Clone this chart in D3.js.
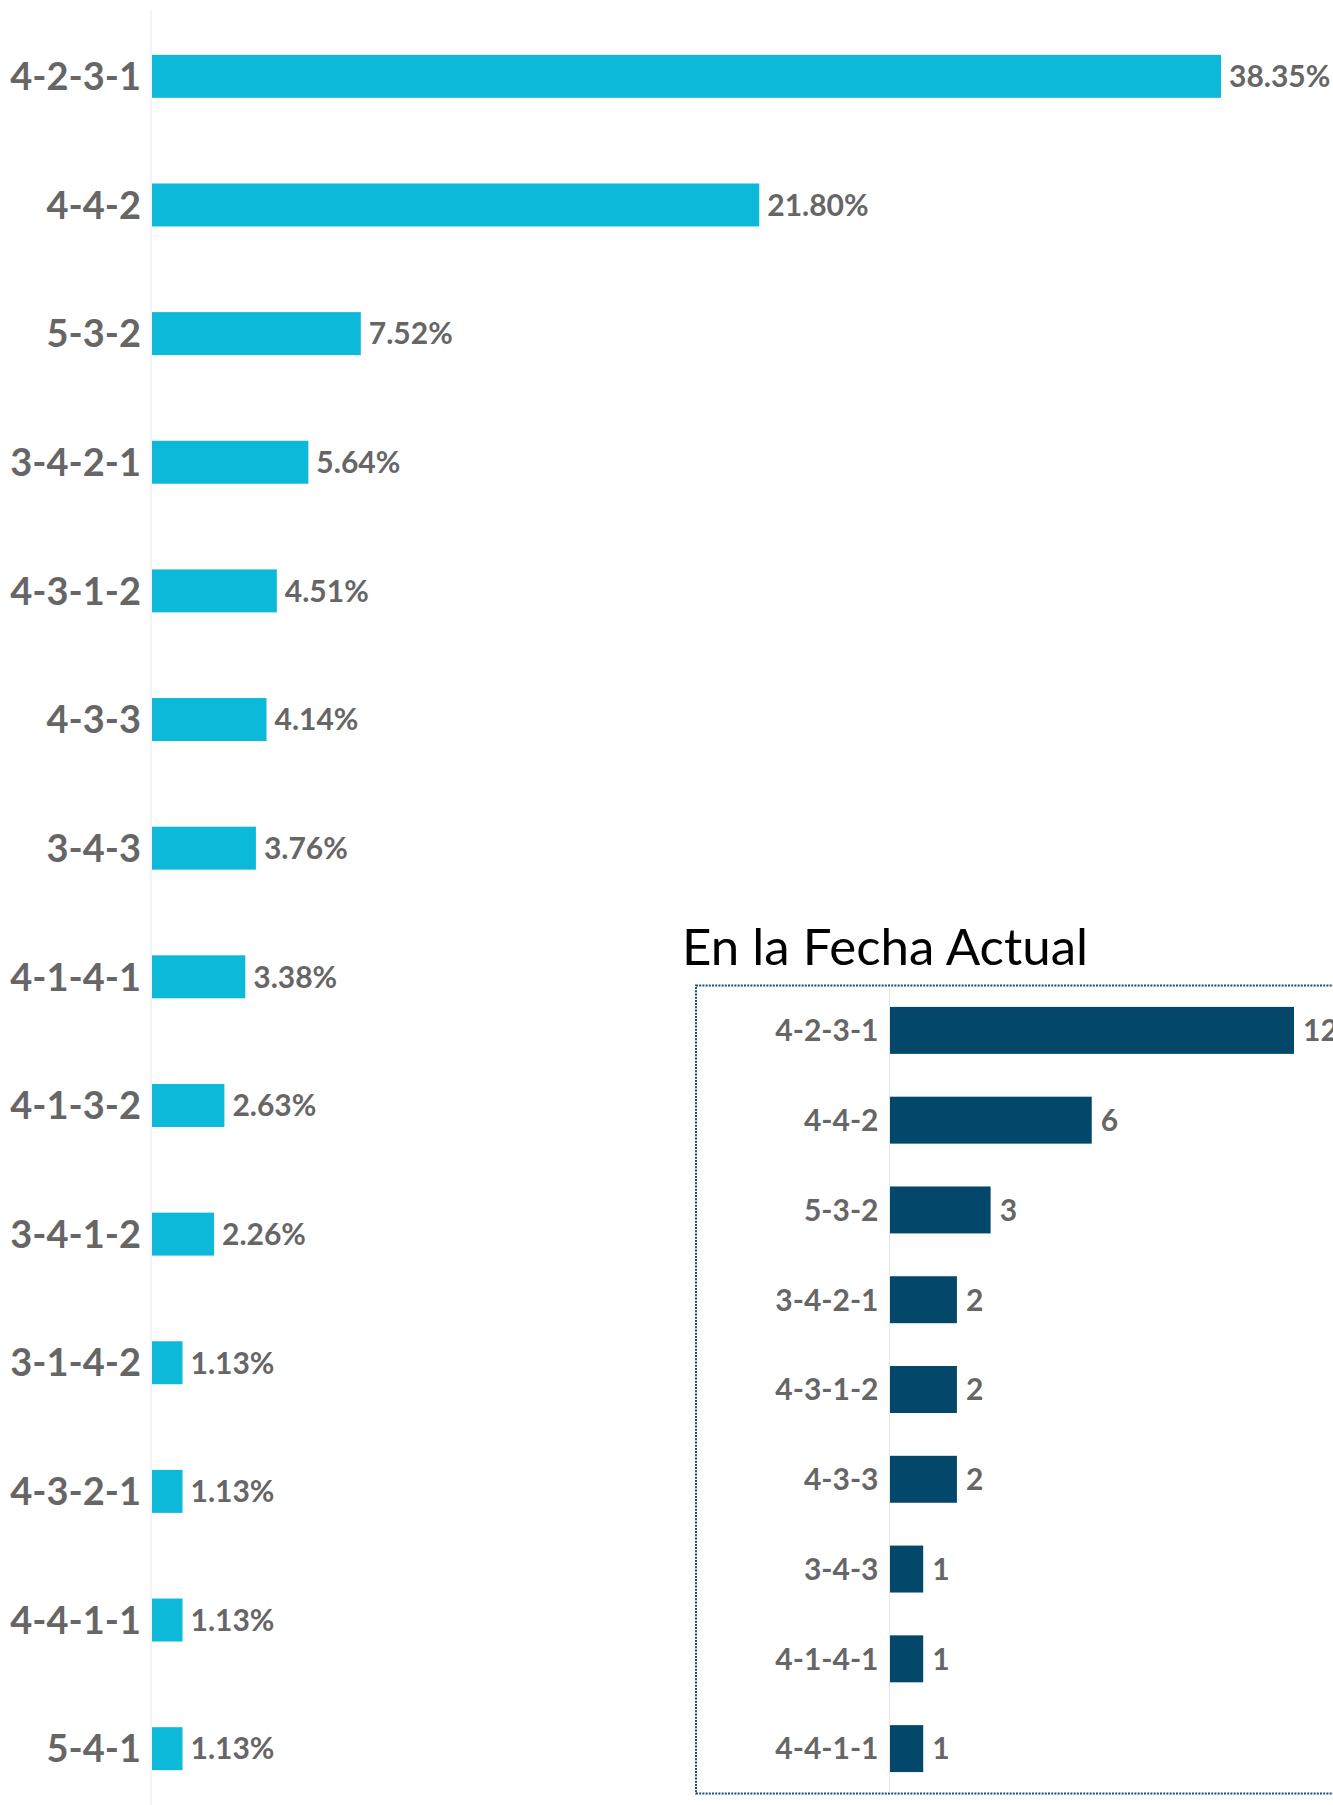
<!DOCTYPE html>
<html>
<head>
<meta charset="utf-8">
<script src="https://cdn.jsdelivr.net/npm/d3@7"></script>
<style>
  body { margin: 0; background: #fff; }
  svg { display: block; font-family: Lato, "Open Sans", sans-serif; }
</style>
</head>
<body>
<div id="chart"></div>
<script>
// overall formations (share of matches, %)
var formations = ["4-2-3-1", "4-4-2", "5-3-2", "3-4-2-1", "4-3-1-2", "4-3-3", "3-4-3",
                  "4-1-4-1", "4-1-3-2", "3-4-1-2", "3-1-4-2", "4-3-2-1", "4-4-1-1", "5-4-1"]
var shares = [38.35, 21.80, 7.52, 5.64, 4.51, 4.14, 3.76, 3.38, 2.63, 2.26, 1.13, 1.13, 1.13, 1.13]

// current date inset (counts)
var insetTitle = "En la Fecha Actual"
var currentFormations = ["4-2-3-1", "4-4-2", "5-3-2", "3-4-2-1", "4-3-1-2", "4-3-3", "3-4-3", "4-1-4-1", "4-4-1-1"]
var currentCounts = [12, 6, 3, 2, 2, 2, 1, 1, 1]

function init() {
    var w = 1333
    var h = 1805

    var svg = d3.select("#chart")
                .append("svg")
                .attr("width", w)
                .attr("height", h)

    // ---- main chart ----
    var x = d3.scaleLinear().domain([0, 38.35]).range([151, 1221])
    var y = d3.scaleBand()
              .domain(formations)
              .range([12, 1813])
              .paddingInner(0.666)
              .paddingOuter(0.333)

    svg.append("line")
        .attr("x1", 151).attr("x2", 151)
        .attr("y1", 11).attr("y2", h)
        .attr("stroke", "#f0f0f0")
        .attr("stroke-width", 1.5)

    svg.selectAll("rect.main")
        .data(shares)
        .enter()
        .append("rect")
        .attr("class", "main")
        .attr("x", x(0) + 1)
        .attr("y", (d, i) => y(formations[i]))
        .attr("width", d => x(d) - x(0) - 1)
        .attr("height", y.bandwidth())
        .attr("fill", "#0cb9d9")

    var yAxis = svg.append("g")
        .attr("transform", "translate(151,0)")
        .call(d3.axisLeft(y).tickSize(0).tickPadding(10))
    yAxis.select(".domain").remove()
    yAxis.selectAll("text")
        .attr("dy", "0.36em")
        .style("font-family", "Lato, sans-serif")
        .style("font-size", "38px")
        .style("font-weight", "700")
        .attr("fill", "#666")

    svg.selectAll("text.val")
        .data(shares)
        .enter()
        .append("text")
        .attr("class", "val")
        .text(d => d3.format(".2f")(d) + "%")
        .attr("x", d => x(d) + 8)
        .attr("y", (d, i) => y(formations[i]) + y.bandwidth() / 2)
        .attr("dy", "0.36em")
        .style("font-size", "30px")
        .style("font-weight", "700")
        .attr("fill", "#666")

    // ---- inset ----
    var top = 985.5, bottom = 1793.5, left = 696

    svg.append("text")
        .text(insetTitle)
        .attr("x", 682)
        .attr("y", 965)
        .style("font-size", "51px")
        .attr("fill", "#000")

    svg.append("rect")
        .attr("x", left)
        .attr("y", top)
        .attr("width", w)
        .attr("height", bottom - top)
        .attr("fill", "#fff")
        .attr("stroke", "#15507a")
        .attr("stroke-width", 2)
        .attr("stroke-dasharray", "2,1.2")

    var x2 = d3.scaleLinear().domain([0, 12]).range([889.5, 1294])
    var y2 = d3.scaleBand()
               .domain(currentFormations)
               .range([top, bottom])
               .paddingInner(0.477)
               .paddingOuter(0.2385)

    svg.append("line")
        .attr("x1", 889.5).attr("x2", 889.5)
        .attr("y1", top + 1).attr("y2", bottom - 1)
        .attr("stroke", "#e4e4e4")
        .attr("stroke-width", 1)

    svg.selectAll("rect.cur")
        .data(currentCounts)
        .enter()
        .append("rect")
        .attr("class", "cur")
        .attr("x", x2(0) + 0.5)
        .attr("y", (d, i) => y2(currentFormations[i]))
        .attr("width", d => x2(d) - x2(0) - 0.5)
        .attr("height", y2.bandwidth())
        .attr("fill", "#03476a")

    var yAxis2 = svg.append("g")
        .attr("transform", "translate(889.5,0)")
        .call(d3.axisLeft(y2).tickSize(0).tickPadding(11))
    yAxis2.select(".domain").remove()
    yAxis2.selectAll("text")
        .attr("dy", "0.36em")
        .style("font-family", "Lato, sans-serif")
        .style("font-size", "30px")
        .style("font-weight", "700")
        .attr("fill", "#666")

    svg.selectAll("text.cnt")
        .data(currentCounts)
        .enter()
        .append("text")
        .attr("class", "cnt")
        .text(d => d)
        .attr("x", d => x2(d) + 9)
        .attr("y", (d, i) => y2(currentFormations[i]) + y2.bandwidth() / 2)
        .attr("dy", "0.36em")
        .style("font-size", "30px")
        .style("font-weight", "700")
        .attr("fill", "#666")
}

window.onload = init;
</script>
</body>
</html>
